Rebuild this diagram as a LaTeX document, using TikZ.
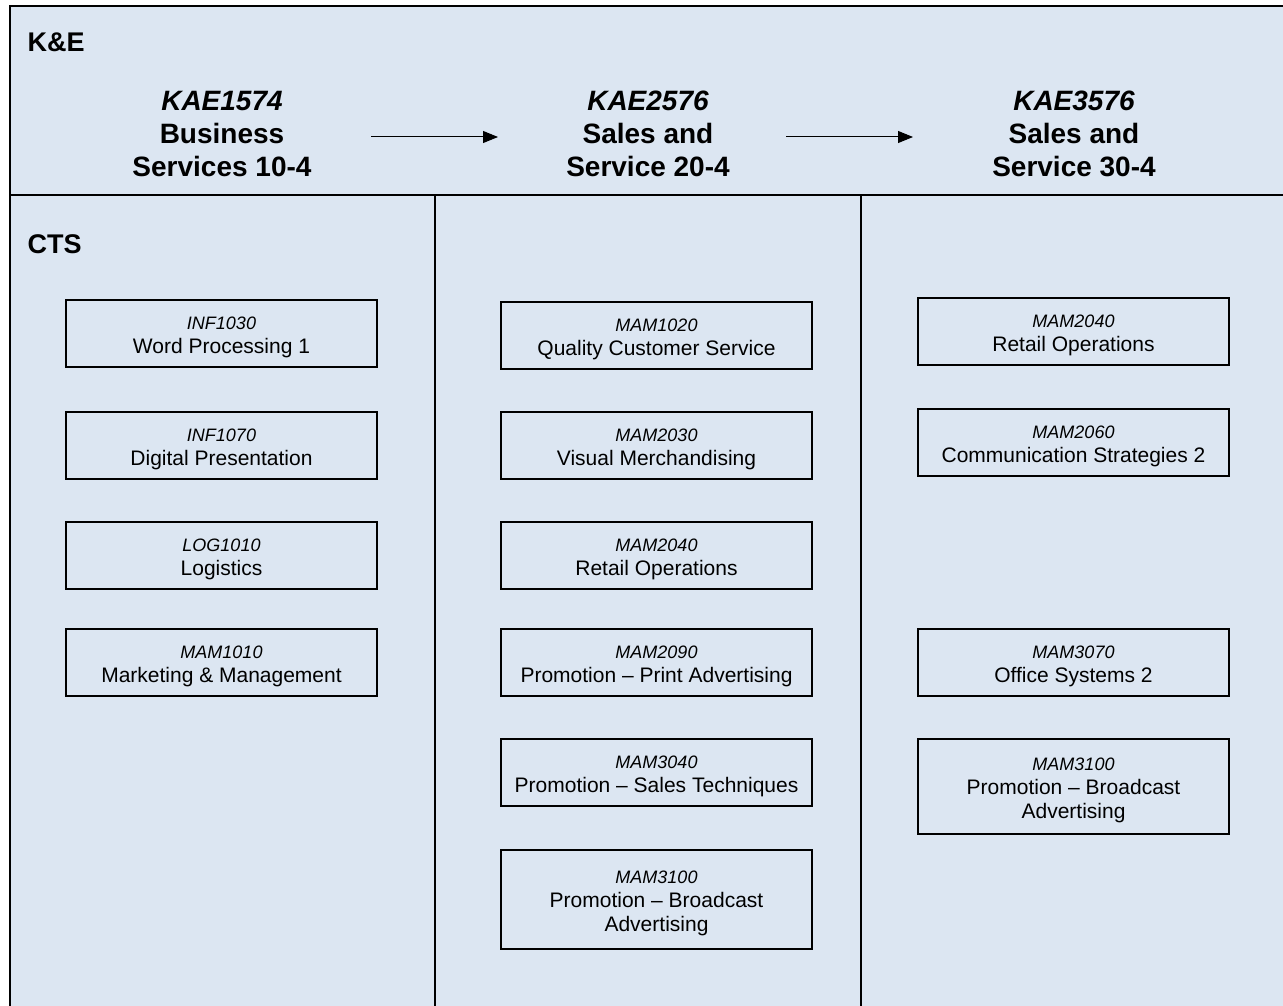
\documentclass[tikz,border=0pt]{standalone}
\usepackage{fontspec}
\setmainfont{Liberation Sans}
\usetikzlibrary{arrows.meta}
\definecolor{paneblue}{RGB}{220,230,242}

\newcommand{\coursetext}[2]{{\fontsize{18}{24}\selectfont\itshape\rule{0pt}{20pt}#1}\\#2}

\tikzset{
	course/.style={draw,line width=1.3pt,minimum width=311pt,minimum height=67pt,align=center,inner sep=0pt,font=\fontsize{21}{24}\selectfont},
	tallcourse/.style={course,minimum height=97pt},
	header/.style={align=center,font=\fontsize{28}{33}\selectfont\bfseries},
	rowtag/.style={anchor=west,font=\fontsize{27}{30}\selectfont\bfseries},
	flow/.style={line width=1pt,-{Triangle[length=15pt,width=12pt]}}
}

\begin{document}
\begin{tikzpicture}[x=1pt,y=-1pt]
	\useasboundingbox (0,0) rectangle (1283,1006);
	\fill[paneblue] (10,6) rectangle (1283,1006);
	\draw[line width=2pt] (1283,6) -- (10,6) -- (10,1006);
	\draw[line width=2pt] (10,195) -- (1283,195);
	\draw[line width=2pt] (435,195) -- (435,1006);
	\draw[line width=2pt] (861,195) -- (861,1006);

	\node[rowtag] (ke) at (24,42) {K\&E};
	\node[rowtag] (cts) at (24,244) {CTS};

	\node[header] (kae1) at (222,134) {\itshape KAE1574\\Business\\Services 10-4};
	\node[header] (kae2) at (648,134) {\itshape KAE2576\\Sales and\\Service 20-4};
	\node[header] (kae3) at (1074,134) {\itshape KAE3576\\Sales and\\Service 30-4};

	\coordinate (a1) at (371,137);
	\coordinate (b1) at (498,137);
	\coordinate (a2) at (786,137);
	\coordinate (b2) at (913,137);
	\draw[flow] (a1) -- (b1);
	\draw[flow] (a2) -- (b2);

	% first year
	\node[course] (inf1030) at (221.5,333.5) {\coursetext{INF1030}{Word Processing 1}};
	\node[course] (inf1070) at (221.5,445.5) {\coursetext{INF1070}{Digital Presentation}};
	\node[course] (log1010) at (221.5,555.5) {\coursetext{LOG1010}{Logistics}};
	\node[course] (mam1010) at (221.5,662.5) {\coursetext{MAM1010}{Marketing \& Management}};

	% second year
	\node[course] (mam1020) at (656.5,335.5) {\coursetext{MAM1020}{Quality Customer Service}};
	\node[course] (mam2030) at (656.5,445.5) {\coursetext{MAM2030}{Visual Merchandising}};
	\node[course] (mam2040a) at (656.5,555.5) {\coursetext{MAM2040}{Retail Operations}};
	\node[course] (mam2090) at (656.5,662.5) {\coursetext{MAM2090}{Promotion -- Print Advertising}};
	\node[course] (mam3040) at (656.5,772.5) {\coursetext{MAM3040}{Promotion -- Sales Techniques}};
	\node[tallcourse,minimum height=99pt] (mam3100a) at (656.5,899.5) {\coursetext{MAM3100}{Promotion -- Broadcast\\Advertising}};

	% third year
	\node[course] (mam2040b) at (1073.5,331.5) {\coursetext{MAM2040}{Retail Operations}};
	\node[course] (mam2060) at (1073.5,442.5) {\coursetext{MAM2060}{Communication Strategies 2}};
	\node[course] (mam3070) at (1073.5,662.5) {\coursetext{MAM3070}{Office Systems 2}};
	\node[tallcourse,minimum height=95pt] (mam3100b) at (1073.5,786.5) {\coursetext{MAM3100}{Promotion -- Broadcast\\Advertising}};
\end{tikzpicture}
\end{document}
